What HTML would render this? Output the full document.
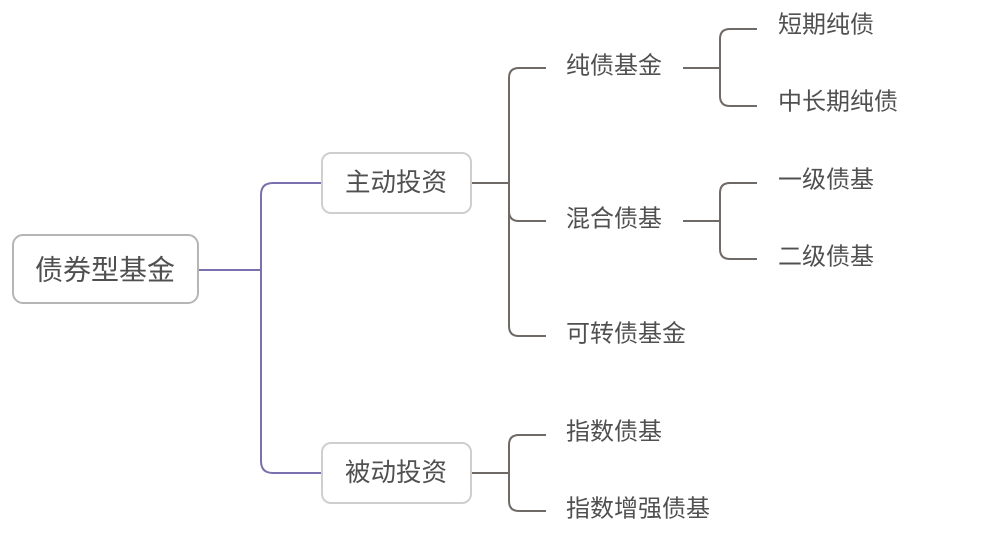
<!DOCTYPE html>
<html><head><meta charset="utf-8"><style>
body{margin:0;background:#fff;width:991px;height:546px;overflow:hidden}
svg text{font-family:"Liberation Sans","Noto Sans CJK SC",sans-serif;fill:#505050;dominant-baseline:central}
</style></head><body>
<svg width="991" height="546" xmlns="http://www.w3.org/2000/svg">
<g fill="none" stroke="#7b6fae" stroke-width="2">
<path d="M198 270 H261"/>
<path d="M322 183 H273 Q261 183 261 195 V461 Q261 473 273 473 H322"/>
</g>
<g fill="none" stroke="#6f6a66" stroke-width="2">
<path d="M471 183 H509"/>
<path d="M546 68 H519 Q509 68 509 78 V326 Q509 336 519 336 H546"/>
<path d="M509 211 Q509 221 519 221 H546"/>
<path d="M471 473 H509"/>
<path d="M546 435 H519 Q509 435 509 445 V501 Q509 511 519 511 H546"/>
<path d="M683 68 H720"/>
<path d="M757 29 H730 Q720 29 720 39 V96 Q720 106 730 106 H757"/>
<path d="M683 221 H720"/>
<path d="M757 183 H730 Q720 183 720 193 V249 Q720 259 730 259 H757"/>
</g>
<rect x="13" y="235" width="185" height="68" rx="10" fill="#fff" stroke="#b5b5b5" stroke-width="2"/>
<rect x="322" y="153" width="149" height="60" rx="9" fill="#fff" stroke="#cfcfcf" stroke-width="2"/>
<rect x="322" y="443" width="149" height="60" rx="9" fill="#fff" stroke="#cfcfcf" stroke-width="2"/>
<text x="35" y="270" font-size="28">债券型基金</text>
<text x="345" y="183" font-size="25.5">主动投资</text>
<text x="345" y="473" font-size="25.5">被动投资</text>
<g font-size="24">
<text x="566" y="66">纯债基金</text>
<text x="566" y="219">混合债基</text>
<text x="566" y="334">可转债基金</text>
<text x="566" y="432">指数债基</text>
<text x="566" y="509">指数增强债基</text>
<text x="778" y="25">短期纯债</text>
<text x="778" y="102">中长期纯债</text>
<text x="778" y="180">一级债基</text>
<text x="778" y="257">二级债基</text>
</g>
</svg>
</body></html>
